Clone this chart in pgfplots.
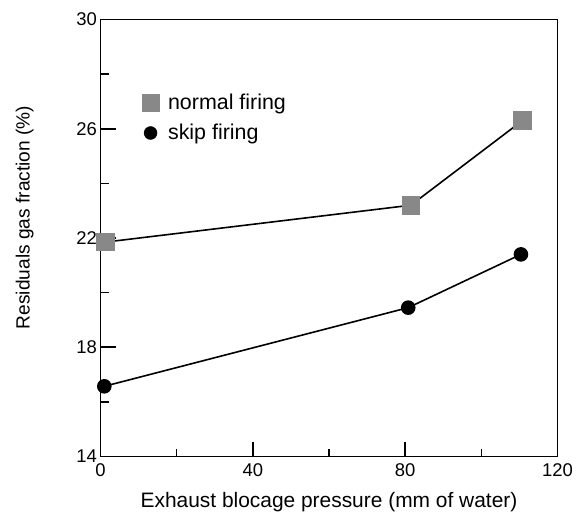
\documentclass[border=0pt]{standalone}
\usepackage{pgfplots}
\pgfplotsset{compat=1.18}
\usepackage{fontspec}
\setmainfont{Liberation Sans}

\definecolor{sqgray}{HTML}{888888}

\begin{document}
\begin{tikzpicture}
% page = reference frame, axis box at (0,0)--(457bp,437bp)
\path[use as bounding box] (-100.5bp,-57.5bp) rectangle (478.5bp,456.5bp);
\begin{axis}[
    at={(0,0)}, anchor=south west,
    scale only axis,
    width=457bp, height=437bp,
    xmin=0, xmax=120, ymin=14, ymax=30,
    xtick={0,40,80,120}, ytick={14,18,22,26,30},
    minor xtick={20,60,100}, minor ytick={16,20,24,28},
    tick align=inside, xtick pos=bottom, ytick pos=left,
    major tick length=15bp, minor tick length=8bp,
    axis line style={line width=1.8bp},
    every tick/.style={line width=1.6bp, black},
    /pgf/number format/assume math mode=true,
    ticklabel style={font=\fontsize{18.5}{20}\selectfont},
    xticklabel style={yshift=-4bp},
    xlabel={Exhaust blocage pressure (mm of water)},
    ylabel={Residuals gas fraction (\%)},
    xlabel style={font=\fontsize{21}{23}\selectfont,
        at={(axis description cs:0.5,0)}, anchor=base, yshift=-50.5bp},
    ylabel style={font=\fontsize{19.2}{21}\selectfont,
        at={(axis description cs:-0.155,0.547)}, anchor=base},
    legend style={draw=none, fill=none, at={(axis description cs:0.084,0.838)}, anchor=north west,
        font=\fontsize{21.5}{23}\selectfont, row sep=9bp},
    legend cell align=left,
]
\addlegendimage{only marks, mark=square*, mark size=8.5bp, sqgray}
\addlegendentry{\hspace{7bp}normal firing}
\addlegendimage{only marks, mark=*, mark size=6.5bp, black}
\addlegendentry{\hspace{7bp}skip firing}

% normal firing
\addplot[black, line width=1.6bp, mark=square*, mark size=8.5bp,
    mark options={sqgray, draw=sqgray}, forget plot] coordinates {
    (1.3, 21.85)
    (81.5, 23.2)
    (110.8, 26.3)
};
% skip firing
\addplot[black, line width=1.6bp, mark=*, mark size=6.5bp, forget plot] coordinates {
    (1.0, 16.57)
    (80.8, 19.45)
    (110.4, 21.4)
};
\end{axis}
\end{tikzpicture}
\end{document}
